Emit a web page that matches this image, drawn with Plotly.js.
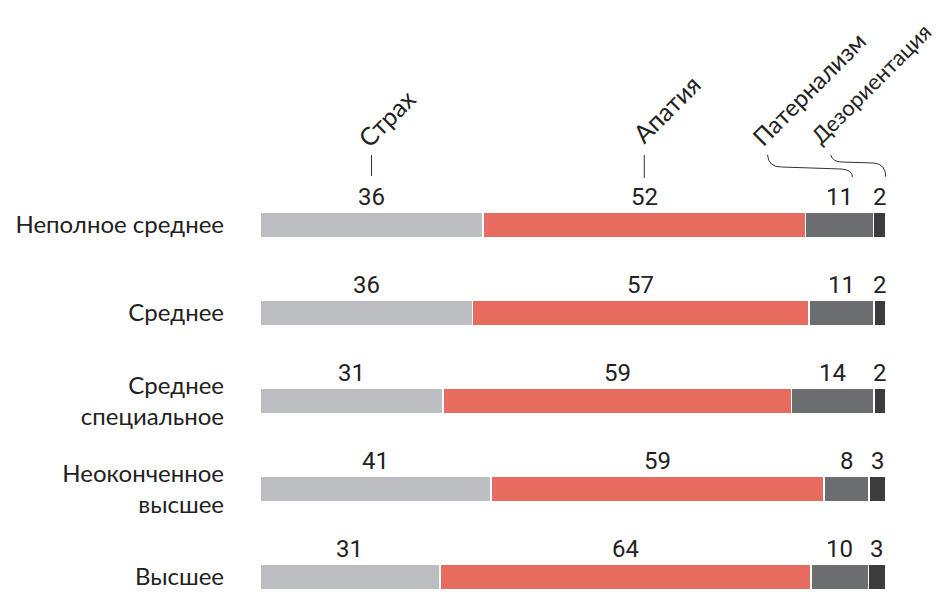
<!DOCTYPE html>
<html>
<head>
<meta charset="utf-8">
<script src="https://cdn.plot.ly/plotly-3.0.1.min.js"></script>
<style>html,body{margin:0;padding:0;background:#fff;}#chart{width:946px;height:592px;}</style>
</head>
<body>
<div id="chart"></div>
<script>
const categories = ["Неполное среднее", "Среднее", "Среднее<br>специальное", "Неоконченное<br>высшее", "Высшее"];
const seriesNames = ["Страх", "Апатия", "Патернализм", "Дезориентация"];
const strakh = [36, 36, 31, 41, 31];
const apatiya = [52, 57, 59, 59, 64];
const paternalizm = [11, 11, 14, 8, 10];
const dezorientatsiya = [2, 2, 2, 3, 3];
const seriesValues = [strakh, apatiya, paternalizm, dezorientatsiya];
const colors = ["#bcbdc0", "#e76b5f", "#6c6d71", "#3c3c3c"];

const W = 946, H = 592;
const margin = {l: 260, r: 60, t: 181, b: 0};

const traces = seriesValues.map((vals, i) => ({
  type: "bar",
  orientation: "h",
  name: seriesNames[i],
  y: categories,
  x: vals,
  width: 0.3,
  marker: {color: colors[i], line: {color: "#ffffff", width: 1.7}},
  hoverinfo: "skip",
  showlegend: false
}));

// value labels above each segment, positioned from the data
const annotations = [];
const segCenters = categories.map(() => []);
categories.forEach((cat, r) => {
  const total = seriesValues.reduce((s, arr) => s + arr[r], 0);
  let cum = 0;
  seriesValues.forEach((arr, i) => {
    const v = arr[r];
    const cx = (cum + v / 2) / total;
    segCenters[r].push(cx);
    cum += v;
    annotations.push({
      x: cx, y: cat, xref: "x", yref: "y",
      text: String(v), showarrow: false,
      xanchor: "center", yanchor: "bottom", yshift: 12,
      font: {family: "Roboto, sans-serif", size: 24, color: "#222222"}
    });
  });
});

// rotated series headers above the first row
const headerShift = [[-23, 26], [-21, 30], [-96, 27], [-77, 29]];
const headerSize = [25, 25, 24, 22];
seriesNames.forEach((name, i) => {
  annotations.push({
    x: segCenters[0][i], y: 1, xref: "x", yref: "paper",
    text: name, showarrow: false, textangle: -45,
    xanchor: "left", yanchor: "bottom",
    xshift: headerShift[i][0], yshift: headerShift[i][1],
    font: {family: "Lato, sans-serif", size: headerSize[i], color: "#222222"}
  });
});

const shapes = [
  {type: "line", xref: "x", yref: "paper", x0: segCenters[0][0], x1: segCenters[0][0],
   ysizemode: "pixel", yanchor: 1, y0: 5, y1: 26, line: {color: "#333333", width: 1}},
  {type: "line", xref: "x", yref: "paper", x0: segCenters[0][1], x1: segCenters[0][1],
   ysizemode: "pixel", yanchor: 1, y0: 3, y1: 26, line: {color: "#333333", width: 1}},
  {type: "path", xref: "x", yref: "paper", xsizemode: "pixel", xanchor: segCenters[0][2],
   ysizemode: "pixel", yanchor: 1,
   path: "M-72,26 Q-71,14 -58,14 L2,12 Q13,11 13,4", line: {color: "#333333", width: 1}},
  {type: "path", xref: "x", yref: "paper", xsizemode: "pixel", xanchor: segCenters[0][3],
   ysizemode: "pixel", yanchor: 1,
   path: "M-49,26 Q-47,19 -38,19 L-6,18 Q6,17 6,4", line: {color: "#333333", width: 1}}
];

const layout = {
  width: W, height: H,
  margin: margin,
  paper_bgcolor: "#ffffff", plot_bgcolor: "#ffffff",
  barmode: "stack", barnorm: "fraction",
  xaxis: {range: [0, 1], visible: false, fixedrange: true},
  yaxis: {
    type: "category", range: [4.17, -0.5], showgrid: false, zeroline: false,
    showline: false, ticks: "", ticklabelstandoff: 35,
    tickfont: {family: "Lato, sans-serif", size: 24, color: "#222222"}
  },
  annotations: annotations,
  shapes: shapes
};

Plotly.newPlot("chart", traces, layout, {displayModeBar: false, staticPlot: true});
</script>
</body>
</html>
